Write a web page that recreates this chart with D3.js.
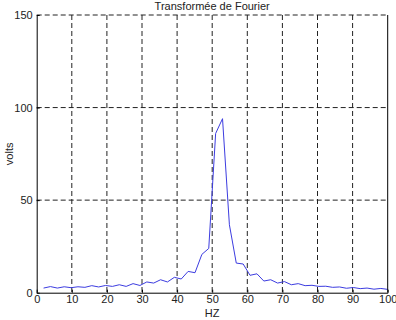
<!DOCTYPE html>
<html>
<head>
<meta charset="utf-8">
<script src="https://d3js.org/d3.v7.min.js"></script>
<style>
body { margin: 0; background: #fff; font-family: "Liberation Sans", Arial, sans-serif; }
.axis text { font-family: "Liberation Sans", Arial, sans-serif; font-size: 11px; fill: #222; }
.grid line { stroke: #222; stroke-dasharray: 5,3; stroke-width: 1; }
.label { font-family: "Liberation Sans", Arial, sans-serif; font-size: 11px; fill: #222; text-anchor: middle; }
</style>
</head>
<body>
<div id="chart"></div>
<script>
// frequencies (Hz) of each FFT bin, read from the vertices
var freqs = [1.96, 3.92, 5.88, 7.84, 9.80, 11.76, 13.73, 15.69, 17.65, 19.61,
             21.57, 23.53, 25.49, 27.45, 29.41, 31.37, 33.33, 35.29, 37.25, 39.22,
             41.18, 43.14, 45.10, 47.06, 49.02, 50.98, 52.94, 54.90, 56.86, 58.82,
             60.78, 62.75, 64.71, 66.67, 68.63, 70.59, 72.55, 74.51, 76.47, 78.43,
             80.39, 82.35, 84.31, 86.27, 88.24, 90.20, 92.16, 94.12, 96.08, 98.04, 100];
// amplitude (volts)
var volts = [2.5, 3.3, 2.5, 3.2, 2.7, 3.2, 2.9, 3.8, 3.1, 3.9,
             3.4, 4.3, 3.4, 4.9, 3.9, 5.8, 5.2, 7.0, 5.8, 8.3,
             7.4, 11.5, 10.8, 20.7, 23.9, 86, 94, 36.7, 16, 15.5,
             9.4, 10.2, 6.3, 7.0, 5.2, 6.0, 4.3, 4.9, 3.8, 4.0,
             3.4, 3.5, 2.9, 3.1, 2.4, 2.8, 2.2, 2.5, 1.9, 2.3, 1.8];
var xTicks = [0, 10, 20, 30, 40, 50, 60, 70, 80, 90, 100];
var yTicks = [0, 50, 100, 150];

var margin = {top: 15, right: 8.3, bottom: 27.3, left: 36.7},
    width  = 396 - margin.left - margin.right,
    height = 320 - margin.top - margin.bottom;

var svg = d3.select("#chart").append("svg")
    .attr("width", 396).attr("height", 320)
  .append("g")
    .attr("transform", "translate(" + margin.left + "," + margin.top + ")");

var xScale = d3.scaleLinear().domain([0, 100]).range([0, width]);
var yScale = d3.scaleLinear().domain([0, 150]).range([height, 0]);

// dashed grid
svg.append("g").attr("class", "grid")
   .selectAll("line").data(xTicks.slice(1, -1)).enter().append("line")
   .attr("x1", function(d) { return xScale(d); })
   .attr("x2", function(d) { return xScale(d); })
   .attr("y1", 0).attr("y2", height);
svg.append("g").attr("class", "grid")
   .selectAll("line").data(yTicks.slice(1)).enter().append("line")
   .attr("y1", function(d) { return yScale(d); })
   .attr("y2", function(d) { return yScale(d); })
   .attr("x1", 0).attr("x2", width);

// the spectrum
var line = d3.line()
    .x(function(d, i) { return xScale(freqs[i]); })
    .y(function(d) { return yScale(d); });
svg.append("path")
   .datum(volts)
   .attr("d", line)
   .attr("fill", "none")
   .attr("stroke", "#3c3ce0")
   .attr("stroke-width", 1);

// axes
svg.append("g")
   .attr("class", "x axis")
   .attr("transform", "translate(0," + height + ")")
   .call(d3.axisBottom(xScale).tickValues(xTicks).tickSizeInner(-3).tickSizeOuter(0).tickPadding(3))
   .call(function(g) { g.select(".domain").attr("stroke", "#000"); });
svg.append("g")
   .attr("class", "y axis")
   .call(d3.axisLeft(yScale).tickValues(yTicks).tickSizeInner(-3).tickSizeOuter(0).tickPadding(4))
   .call(function(g) { g.select(".domain").attr("stroke", "#000"); });
// right edge of the box
svg.append("line")
   .attr("x1", width).attr("x2", width).attr("y1", 0).attr("y2", height)
   .attr("stroke", "#000");

// labels
svg.append("text").attr("class", "label")
   .attr("x", width / 2).attr("y", -5)
   .text("Transformée de Fourier");
svg.append("text").attr("class", "label")
   .attr("x", width / 2).attr("y", height + 24)
   .text("HZ");
svg.append("text").attr("class", "label")
   .attr("transform", "translate(" + (-23.5) + "," + (height / 2) + ")rotate(-90)")
   .text("volts");
</script>
</body>
</html>
